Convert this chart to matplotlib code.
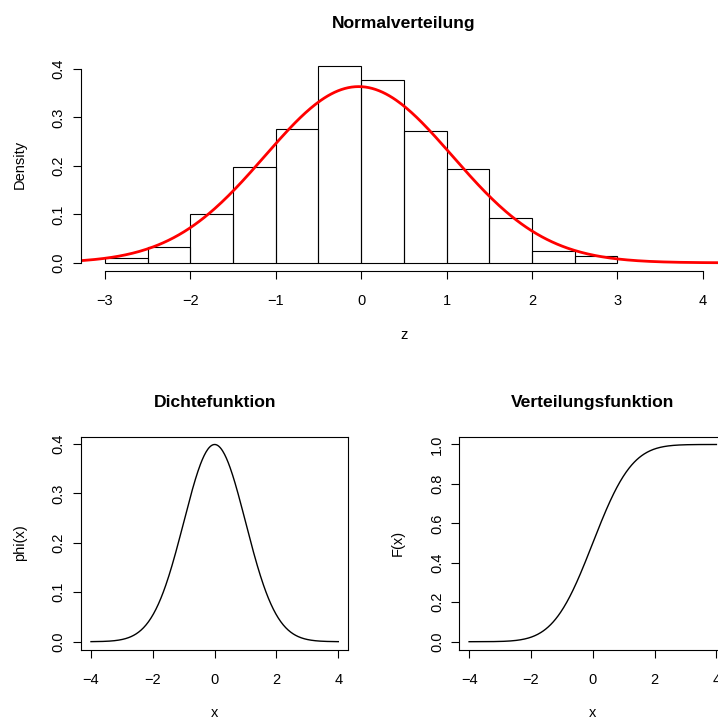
#!/usr/bin/env python3
# Normalverteilung: Histogramm mit Dichtekurve, darunter Dichte- und Verteilungsfunktion

import math
import numpy as np
import matplotlib
matplotlib.use("Agg")
import matplotlib.pyplot as plt

MY_DPI = 100
X_GEOMETRY = 718
Y_GEOMETRY = 720

# Histogramm (Dichte je Klasse, Klassenbreite 0.5)
bin_edges = [-3.0, -2.5, -2.0, -1.5, -1.0, -0.5, 0.0, 0.5, 1.0, 1.5, 2.0, 2.5, 3.0]
densities = [0.009, 0.032, 0.100, 0.198, 0.276, 0.407, 0.378, 0.273, 0.194, 0.093, 0.024, 0.014]

# angepasste Normalverteilung (rote Kurve)
fit_mean = -0.03
fit_sd = 1.097

hist_xticks = [-3, -2, -1, 0, 1, 2, 3, 4]
hist_yticks = [0.0, 0.1, 0.2, 0.3, 0.4]
std_xticks = [-4, -2, 0, 2, 4]
phi_yticks = [0.0, 0.1, 0.2, 0.3, 0.4]
cdf_yticks = [0.0, 0.2, 0.4, 0.6, 0.8, 1.0]

plt.rcParams['font.family'] = ['Liberation Sans', 'DejaVu Sans']
plt.rcParams['font.size'] = 10.5
plt.rcParams['axes.unicode_minus'] = True

TICK_LEN = 6.0
LW = 0.8


def dnorm(x, m=0.0, s=1.0):
    return np.exp(-0.5 * ((x - m) / s) ** 2) / (s * math.sqrt(2 * math.pi))


def pnorm(x):
    return np.array([0.5 * (1 + math.erf(v / math.sqrt(2))) for v in x])


def fmt_tick(v, nd=0):
    s = "{:.{}f}".format(v, nd)
    return s.replace("-", "\u2212")


def style_axes(ax, xticks, yticks, ynd, box=True):
    ax.set_xticks(xticks)
    ax.set_xticklabels([fmt_tick(v) for v in xticks])
    ax.set_yticks(yticks)
    ax.set_yticklabels([fmt_tick(v, ynd) for v in yticks], rotation=90, va='center')
    ax.tick_params(axis='both', direction='out', length=TICK_LEN, width=LW, labelsize=10.5)
    ax.tick_params(axis='x', pad=10.5)
    ax.tick_params(axis='y', pad=5.0)
    for sp in ax.spines.values():
        sp.set_linewidth(LW)
    if not box:
        ax.spines['top'].set_visible(False)
        ax.spines['right'].set_visible(False)


fig = plt.figure(figsize=(X_GEOMETRY / MY_DPI, Y_GEOMETRY / MY_DPI), dpi=MY_DPI)

# --- oben: Histogramm ---
ax1 = fig.add_axes([0.11281, 0.62403, 0.89944, 0.29569])
left_edges = bin_edges[:-1]
widths = np.diff(bin_edges)
ax1.bar(left_edges, densities, width=widths, align='edge', fill=False,
        edgecolor='black', linewidth=LW)
zz = np.linspace(-3.5, 4.5, 400)
ax1.plot(zz, dnorm(zz, fit_mean, fit_sd), color='red', linewidth=2.0)
ax1.set_xlim(-3.28, 4.28)
ax1.set_ylim(-0.01627, 0.4231)
style_axes(ax1, hist_xticks, hist_yticks, 1, box=False)
ax1.spines['left'].set_bounds(0.0, 0.4)
ax1.spines['bottom'].set_bounds(-3, 4)
ax1.set_title("Normalverteilung", fontsize=12.6, fontweight='bold', pad=21.2)
ax1.set_xlabel("z", va='center')
ax1.xaxis.set_label_coords(0.5, -0.2997)
ax1.set_ylabel("Density", va='center', rotation_mode='anchor')
ax1.yaxis.set_label_coords(-0.0945, 0.5)

# --- unten links: Dichtefunktion ---
xx = np.linspace(-4, 4, 401)
ax2 = fig.add_axes([0.11295, 0.09778, 0.37201, 0.29583])
ax2.plot(xx, dnorm(xx), color='black', linewidth=LW + 0.2)
ax2.set_xlim(-4.32, 4.32)
ax2.set_ylim(-0.01596, 0.41489)
style_axes(ax2, std_xticks, phi_yticks, 1)
ax2.set_title("Dichtefunktion", fontsize=12.6, fontweight='bold', pad=21.5)
ax2.set_xlabel("x", va='center')
ax2.xaxis.set_label_coords(0.5, -0.2977)
ax2.set_ylabel("phi(x)", va='center', rotation_mode='anchor')
ax2.yaxis.set_label_coords(-0.2284, 0.5)

# --- unten rechts: Verteilungsfunktion ---
ax3 = fig.add_axes([0.63955, 0.09778, 0.37201, 0.29583])
ax3.plot(xx, pnorm(xx), color='black', linewidth=LW + 0.2)
ax3.set_xlim(-4.32, 4.32)
ax3.set_ylim(-0.04, 1.04)
style_axes(ax3, std_xticks, cdf_yticks, 1)
ax3.set_title("Verteilungsfunktion", fontsize=12.6, fontweight='bold', pad=21.5)
ax3.set_xlabel("x", va='center')
ax3.xaxis.set_label_coords(0.5, -0.2977)
ax3.set_ylabel("F(x)", va='center', rotation_mode='anchor')
ax3.yaxis.set_label_coords(-0.2284, 0.5)

plt.savefig("out.png", dpi=MY_DPI)
